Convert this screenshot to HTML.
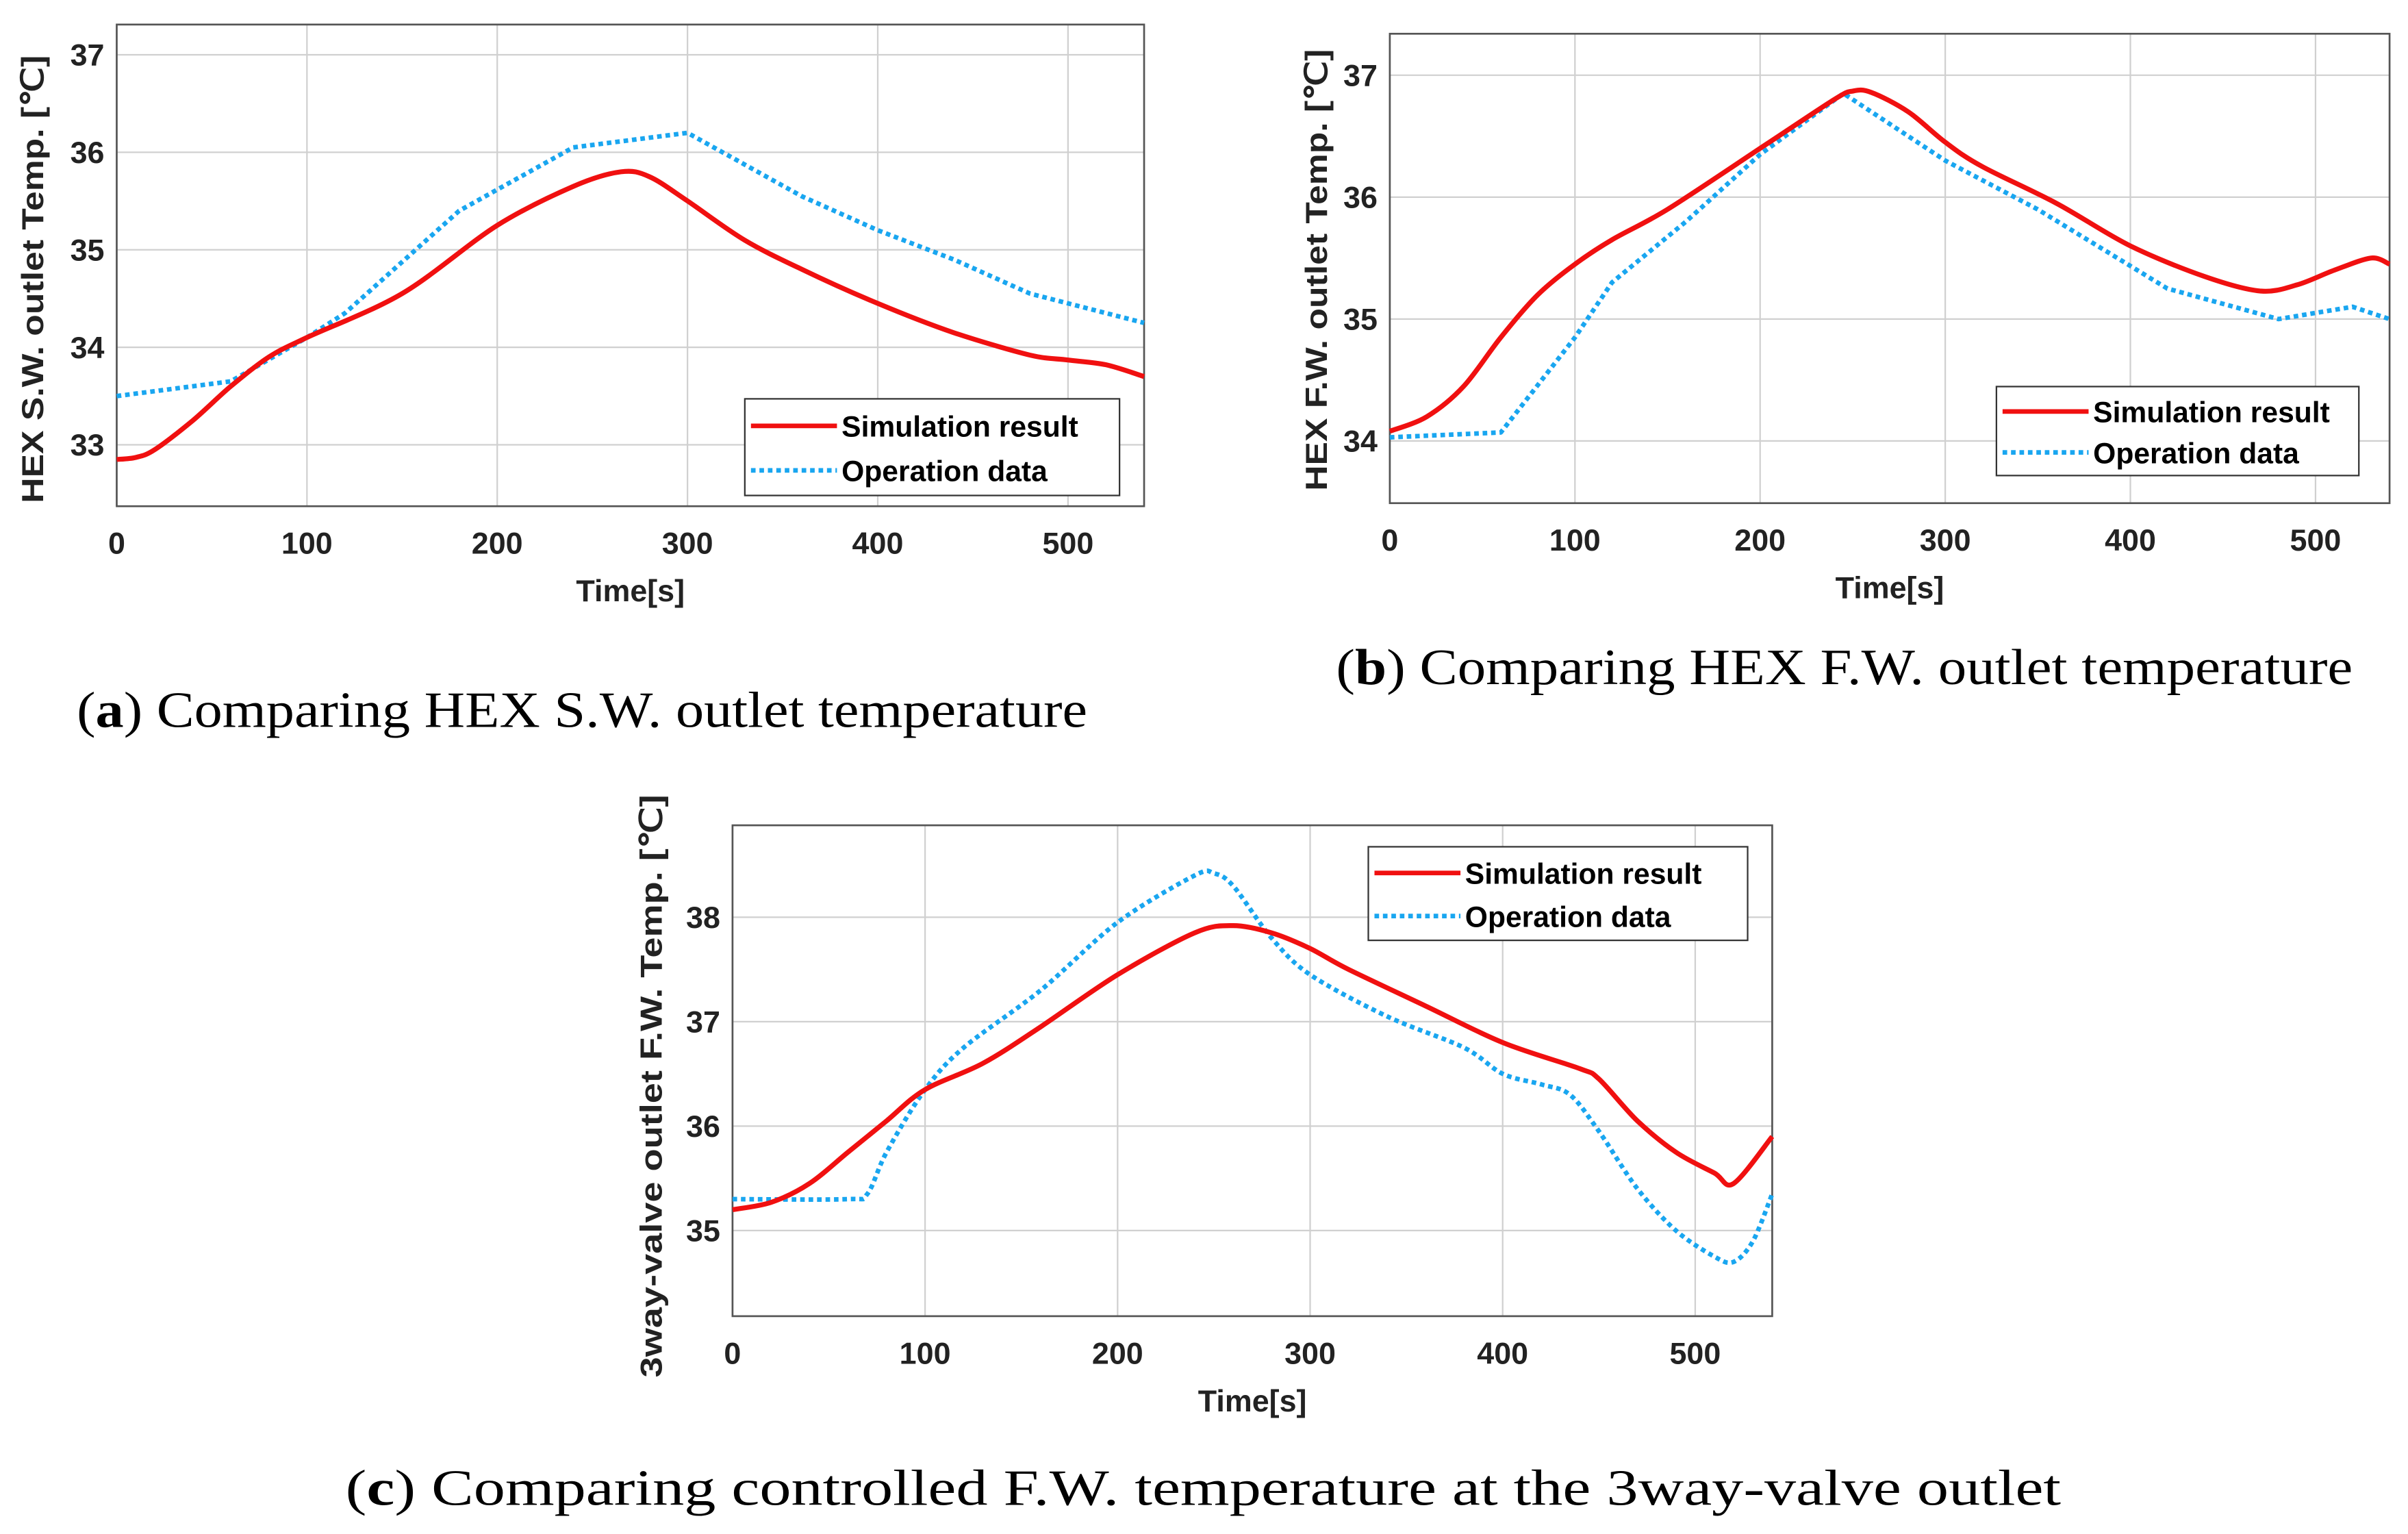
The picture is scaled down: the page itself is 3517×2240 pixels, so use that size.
<!DOCTYPE html>
<html><head><meta charset="utf-8"><style>
html,body{margin:0;padding:0;background:#fff}
svg{display:block}
.tk{font-family:"Liberation Sans",sans-serif;font-weight:bold;font-size:20px;fill:#222}
.ax{font-family:"Liberation Sans",sans-serif;font-weight:bold;font-size:20px;fill:#222}
.lg{font-family:"Liberation Sans",sans-serif;font-weight:bold;font-size:19px;fill:#000}
.cap{font-family:"Liberation Serif",serif;font-size:33px;fill:#000}
</style></head><body>
<svg id="fig" width="3517" height="2240" viewBox="0 0 1568 1000" preserveAspectRatio="none" xmlns="http://www.w3.org/2000/svg">
<rect width="1568" height="1000" fill="#fff"/>
<text class="cap" x="50" y="474" textLength="658" lengthAdjust="spacingAndGlyphs">(<tspan font-weight="bold">a</tspan>) Comparing HEX S.W. outlet temperature</text>
<text class="cap" x="870" y="446" textLength="662" lengthAdjust="spacingAndGlyphs">(<tspan font-weight="bold">b</tspan>) Comparing HEX F.W. outlet temperature</text>
<text class="cap" x="225" y="981" textLength="1117" lengthAdjust="spacingAndGlyphs">(<tspan font-weight="bold">c</tspan>) Comparing controlled F.W. temperature at the 3way-valve outlet</text>
</svg>
<script>
// Panel (a) data
const aSimT=[0,10,20,40,60,80,100,150,200,240,265,280,300,330,360,400,440,480,500,520,540];
const aSimV=[32.85,32.87,32.95,33.25,33.6,33.9,34.1,34.55,35.25,35.65,35.8,35.75,35.5,35.1,34.8,34.45,34.15,33.92,33.87,33.82,33.7];
const aOpT=[0,60,100,120,180,240,300,360,400,440,480,540];
const aOpV=[33.5,33.65,34.1,34.35,35.4,36.05,36.2,35.55,35.2,34.9,34.55,34.25];
const aYTicks=[33,34,35,36,37];
// Panel (b) data
const bSimT=[0,20,40,60,80,100,120,150,200,240,250,260,280,300,320,360,400,440,470,490,510,530,540];
const bSimV=[34.08,34.2,34.45,34.85,35.2,35.45,35.65,35.9,36.4,36.8,36.87,36.86,36.7,36.45,36.25,35.95,35.6,35.35,35.23,35.28,35.4,35.5,35.45];
const bOpT=[0,60,100,120,160,200,245,300,350,420,480,500,520,540];
const bOpV=[34.03,34.07,34.85,35.3,35.8,36.35,36.85,36.3,35.9,35.25,35.0,35.05,35.1,35.0];
const bYTicks=[34,35,36,37];
// Panel (c) data
const cSimT=[0,20,40,60,80,100,130,160,200,240,260,280,300,320,360,400,440,450,470,490,510,520,540];
const cSimV=[35.2,35.27,35.45,35.75,36.05,36.35,36.6,36.95,37.45,37.85,37.92,37.85,37.7,37.5,37.15,36.8,36.55,36.45,36.05,35.75,35.55,35.45,35.9];
const cOpT=[0,60,70,80,100,120,160,200,240,250,260,280,300,340,380,400,420,435,450,470,490,510,520,530,540];
const cOpV=[35.3,35.3,35.35,35.75,36.35,36.75,37.3,37.95,38.4,38.42,38.3,37.8,37.45,37.05,36.75,36.5,36.4,36.3,35.95,35.4,35.0,34.75,34.7,34.9,35.35];
const cYTicks=[35,36,37,38];
const xTicks=[0,100,200,300,400,500];

const NS="http://www.w3.org/2000/svg";
const svg=document.getElementById('fig');
function mk(tag,attrs,parent){const e=document.createElementNS(NS,tag);for(const k in attrs)e.setAttribute(k,attrs[k]);(parent||svg).appendChild(e);return e;}
function smooth(pts){
  let d='M'+pts[0][0].toFixed(1)+','+pts[0][1].toFixed(1);
  for(let i=0;i<pts.length-1;i++){
    const p0=pts[Math.max(0,i-1)],p1=pts[i],p2=pts[i+1],p3=pts[Math.min(pts.length-1,i+2)];
    const k=0.16;
    const c1=[p1[0]+(p2[0]-p0[0])*k,p1[1]+(p2[1]-p0[1])*k];
    const c2=[p2[0]-(p3[0]-p1[0])*k,p2[1]-(p3[1]-p1[1])*k];
    d+='C'+c1.map(v=>v.toFixed(1)).join(',')+' '+c2.map(v=>v.toFixed(1)).join(',')+' '+p2[0].toFixed(1)+','+p2[1].toFixed(1);
  }
  return d;
}
function linear(pts){return pts.map((p,i)=>(i?'L':'M')+p[0].toFixed(1)+','+p[1].toFixed(1)).join('');}
function panel(p){
  const g=mk('g',{});
  
  
  const sx=t=>p.x0+(t-0)/(540)*(p.x1-p.x0);
  const sy=v=>p.y1-(v-p.ymin)/(p.ymax-p.ymin)*(p.y1-p.y0);
  mk('rect',{x:p.x0,y:p.y0,width:p.x1-p.x0,height:p.y1-p.y0,fill:'#fff'},g);
  xTicks.forEach(t=>{
    const l=mk('line',{x1:sx(t),x2:sx(t),y1:p.y0,y2:p.y1,stroke:'#d0d0d0','stroke-width':1},g);
    
    
    const tx=mk('text',{x:sx(t),y:p.y1+31,'text-anchor':'middle',class:'tk'},g);
    tx.textContent=t;
    
    
  });
  p.yt.forEach(v=>{
    const l=mk('line',{x1:p.x0,x2:p.x1,y1:sy(v),y2:sy(v),stroke:'#d0d0d0','stroke-width':1},g);
    
    
    const tx=mk('text',{x:p.x0-8,y:sy(v)+7,'text-anchor':'end',class:'tk'},g);
    tx.textContent=v;
    
    
  });
  mk('rect',{x:p.x0,y:p.y0,width:p.x1-p.x0,height:p.y1-p.y0,fill:'none',stroke:'#555','stroke-width':1.2},g);
  const s1=p.st.map((t,i)=>[sx(t),sy(p.sv[i])]);
  const s2=p.ot.map((t,i)=>[sx(t),sy(p.ov[i])]);
  const l2=mk('path',{d:p.opSmooth?smooth(s2):linear(s2),fill:'none',stroke:'#19a6f0','stroke-width':3,'stroke-dasharray':'3,2.5','stroke-linejoin':'round'},g);
  
  
  const l1=mk('path',{d:smooth(s1),fill:'none',stroke:'#f01010','stroke-width':3.2,'stroke-linejoin':'round'},g);
  
  
  const xl=mk('text',{x:(p.x0+p.x1)/2,y:p.y1+62,'text-anchor':'middle',class:'ax'},g);
  xl.textContent='Time[s]';
  
  
  const yl=mk('text',{x:0,y:0,'text-anchor':'middle',class:'ax',textLength:p.yl,lengthAdjust:'spacingAndGlyphs',transform:'translate('+p.ylx+','+p.ycy+') rotate(-90)'},g);
  yl.textContent=p.ylabel;
  
  
  const L=p.leg;
  const lg=mk('g',{},g);
  
  
  mk('rect',{x:L[0],y:L[1],width:L[2],height:L[3],fill:'#fff',stroke:'#333','stroke-width':1},lg);
  const h=L[3];
  mk('line',{x1:L[0]+4,x2:L[0]+60,y1:L[1]+h*0.28,y2:L[1]+h*0.28,stroke:'#f01010','stroke-width':3},lg);
  mk('line',{x1:L[0]+4,x2:L[0]+60,y1:L[1]+h*0.74,y2:L[1]+h*0.74,stroke:'#19a6f0','stroke-width':3,'stroke-dasharray':'3,2.5'},lg);
  const t1=mk('text',{x:L[0]+63,y:L[1]+h*0.28+7,class:'lg'},lg);t1.textContent='Simulation result';
  
  
  const t2=mk('text',{x:L[0]+63,y:L[1]+h*0.74+7,class:'lg'},lg);t2.textContent='Operation data';
  
  
}
panel({id:'a',x0:76,x1:745,y0:16,y1:330,ymin:32.37,ymax:37.31,yt:aYTicks,st:aSimT,sv:aSimV,ot:aOpT,ov:aOpV,opSmooth:false,
  ylabel:'HEX S.W. outlet Temp. [\u2103]',ylx:28,ycy:182,yl:292,leg:[485,260,244,63]});
panel({id:'b',x0:905,x1:1556,y0:22,y1:328,ymin:33.49,ymax:37.34,yt:bYTicks,st:bSimT,sv:bSimV,ot:bOpT,ov:bOpV,opSmooth:false,
  ylabel:'HEX F.W. outlet Temp. [\u2103]',ylx:864,ycy:176,yl:288,leg:[1300,252,236,58]});
panel({id:'c',x0:477,x1:1154,y0:538,y1:858,ymin:34.18,ymax:38.88,yt:cYTicks,st:cSimT,sv:cSimV,ot:cOpT,ov:cOpV,opSmooth:true,
  ylabel:'3way-valve outlet F.W. Temp. [\u2103]',ylx:431,ycy:708,yl:380,leg:[891,552,247,61]});
</script>
</body></html>
